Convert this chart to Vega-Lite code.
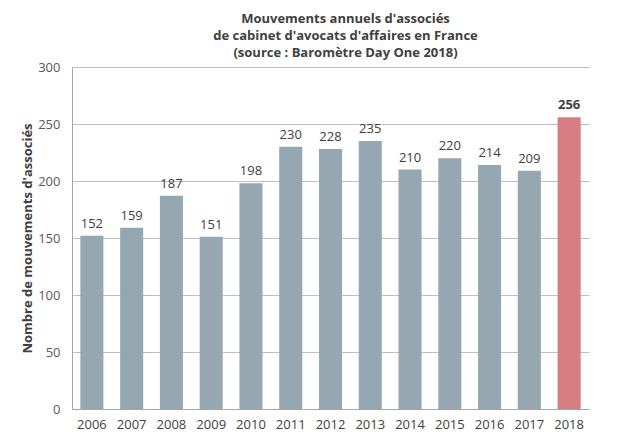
{
  "$schema": "https://vega.github.io/schema/vega-lite/v6.json",
  "width": 517,
  "height": 342,
  "autosize": "none",
  "padding": {"left": 72, "top": 67, "right": 31, "bottom": 39},
  "background": "white",
  "config": {
    "view": {"stroke": null},
    "font": "Open Sans"
  },
  "title": {
    "text": ["Mouvements annuels d'associés", "de cabinet d'avocats d'affaires en France", "(source : Baromètre Day One 2018)"],
    "fontSize": 13,
    "fontWeight": "bold",
    "color": "#404040",
    "anchor": "middle",
    "lineHeight": 17,
    "dx": 15,
    "offset": 1,
    "font": "Open Sans"
  },
  "data": {
    "values": [
      {"year": "2006", "value": 152, "highlight": "no"},
      {"year": "2007", "value": 159, "highlight": "no"},
      {"year": "2008", "value": 187, "highlight": "no"},
      {"year": "2009", "value": 151, "highlight": "no"},
      {"year": "2010", "value": 198, "highlight": "no"},
      {"year": "2011", "value": 230, "highlight": "no"},
      {"year": "2012", "value": 228, "highlight": "no"},
      {"year": "2013", "value": 235, "highlight": "no"},
      {"year": "2014", "value": 210, "highlight": "no"},
      {"year": "2015", "value": 220, "highlight": "no"},
      {"year": "2016", "value": 214, "highlight": "no"},
      {"year": "2017", "value": 209, "highlight": "no"},
      {"year": "2018", "value": 256, "highlight": "yes"}
    ]
  },
  "encoding": {
    "x": {
      "field": "year",
      "type": "ordinal",
      "scale": {"paddingInner": 0.42, "paddingOuter": 0.21},
      "axis": {
        "title": null,
        "labelAngle": 0,
        "labelFontSize": 13,
        "labelColor": "#404040",
        "labelPadding": 9,
        "ticks": false,
        "domainColor": "#A6A6A6",
        "domainWidth": 1
      }
    },
    "y": {
      "field": "value",
      "type": "quantitative",
      "scale": {"domain": [0, 300]},
      "axis": {
        "title": "Nombre de mouvements d'associés",
        "titleFontSize": 13,
        "titleFontWeight": "bold",
        "titleColor": "#404040",
        "titlePadding": 3,
        "values": [0, 50, 100, 150, 200, 250, 300],
        "labelFontSize": 13,
        "labelColor": "#595959",
        "labelPadding": 12,
        "ticks": false,
        "domain": true,
        "domainColor": "#A6A6A6",
        "gridColor": "#BFBFBF",
        "gridWidth": 1
      }
    }
  },
  "layer": [
    {
      "mark": {"type": "bar"},
      "encoding": {
        "color": {
          "field": "highlight",
          "type": "nominal",
          "scale": {"domain": ["no", "yes"], "range": ["#95A8B1", "#D77C80"]},
          "legend": null
        }
      }
    },
    {
      "transform": [{"filter": "datum.highlight == 'no'"}],
      "mark": {"type": "text", "dy": -12, "fontSize": 13, "color": "#404040"},
      "encoding": {
        "text": {"field": "value", "type": "quantitative"}
      }
    },
    {
      "transform": [{"filter": "datum.highlight == 'yes'"}],
      "mark": {"type": "text", "dy": -12, "fontSize": 13, "fontWeight": "bold", "color": "#404040"},
      "encoding": {
        "text": {"field": "value", "type": "quantitative"}
      }
    }
  ]
}
